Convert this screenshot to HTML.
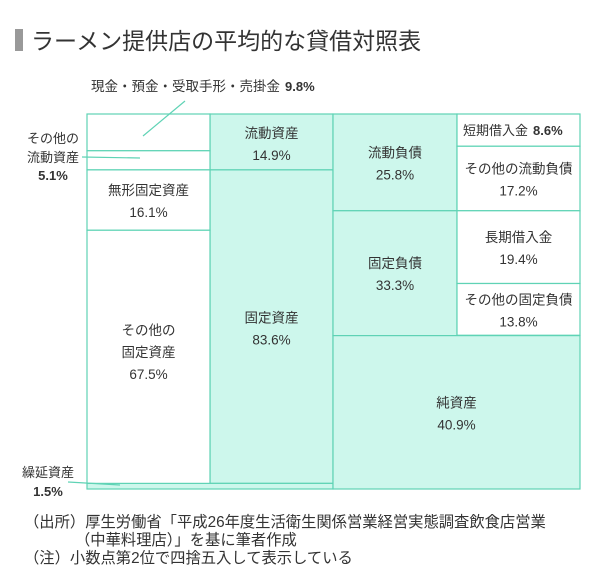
<!DOCTYPE html>
<html><head><meta charset="utf-8">
<style>
body{margin:0;background:#fff;width:600px;height:574px;overflow:hidden;font-family:"Liberation Sans","Noto Sans CJK JP",sans-serif;}
svg text{font-family:"Liberation Sans","Noto Sans CJK JP",sans-serif;fill:#333;}
</style></head><body>
<svg width="600" height="574">
<rect x="15" y="29" width="8" height="22" fill="#999"/>
<text x="31" y="49" font-size="23" fill="#222">ラーメン提供店の平均的な貸借対照表</text>
<g id="marks"></g>
<text x="24" y="527" font-size="15.3">（出所）厚生労働省「平成26年度生活衛生関係営業経営実態調査飲食店営業</text>
<text x="75" y="545" font-size="15.3">（中華料理店）」を基に筆者作成</text>
<text x="24" y="563" font-size="15.3">（注）小数点第2位で四捨五入して表示している</text>
</svg>
<script>
const assetDetailLabels=["現金・預金・受取手形・売掛金","その他の流動資産","無形固定資産","その他の固定資産","繰延資産"];
const assetDetailValues=[9.8,5.1,16.1,67.5,1.5];
const assetGroupLabels=["流動資産","固定資産"];
const assetGroupValues=[14.9,83.6];
const liabGroupLabels=["流動負債","固定負債","純資産"];
const liabGroupValues=[25.8,33.3,40.9];
const liabDetailLabels=["短期借入金","その他の流動負債","長期借入金","その他の固定負債"];
const liabDetailValues=[8.6,17.2,19.4,13.8];

const top0=114,bot0=489,H=bot0-top0;
const y=v=>top0+v/100*H;
const X=[87,210,333,457,580];
const TEAL="#cdf7ec",LINE="#5fd3b5";
const ns="http://www.w3.org/2000/svg";
const g=document.getElementById("marks");
function rect(x,yy,w,h,fill,name){const r=document.createElementNS(ns,"rect");r.setAttribute("x",x);r.setAttribute("y",yy);r.setAttribute("width",w);r.setAttribute("height",h);r.setAttribute("fill",fill);r.setAttribute("stroke",LINE);r.setAttribute("stroke-width","1.2");


g.appendChild(r);return r;}
function text(x,yy,s,size,name,anchor,fill,weight){const t=document.createElementNS(ns,"text");t.setAttribute("x",x);t.setAttribute("y",yy);t.setAttribute("font-size",size||13);t.setAttribute("text-anchor",anchor||"middle");if(fill)t.setAttribute("fill",fill);if(weight)t.setAttribute("font-weight",weight);t.textContent=s;


g.appendChild(t);return t;}
function line(x1,y1,x2,y2,name){const l=document.createElementNS(ns,"line");l.setAttribute("x1",x1);l.setAttribute("y1",y1);l.setAttribute("x2",x2);l.setAttribute("y2",y2);l.setAttribute("stroke",LINE);l.setAttribute("stroke-width","1.2");


g.appendChild(l);}
function pct(v){return v.toFixed(1)+"%";}

let c=0;
assetGroupValues.forEach((v,i)=>{const y0=y(c),y1=y(c+v);rect(X[1],y0,X[2]-X[1],y1-y0,TEAL,"asset-group-"+i);
 const my=(y0+y1)/2;text((X[1]+X[2])/2,my-4,assetGroupLabels[i],13.5,"asset-group-label-"+i);text((X[1]+X[2])/2,my+18,pct(v),13.5,"asset-group-value-"+i);c+=v;});
const dv=assetDetailValues[4];
rect(X[0],y(c),X[2]-X[0],y(c+dv)-y(c),TEAL,"deferred-assets-bar");
c=0;
assetDetailValues.slice(0,4).forEach((v,i)=>{const y0=y(c),y1=y(c+v);rect(X[0],y0,X[1]-X[0],y1-y0,"#fff","asset-detail-"+i);
 if(i>=2){const my=(y0+y1)/2;
  if(i===3){text((X[0]+X[1])/2,my-22,"その他の",13.5,"asset-detail-label-"+i);text((X[0]+X[1])/2,my,"固定資産",13.5,"asset-detail-label2-"+i);text((X[0]+X[1])/2,my+22,pct(v),13.5,"asset-detail-value-"+i);}
  else{text((X[0]+X[1])/2,my-5,assetDetailLabels[i],13.5,"asset-detail-label-"+i);text((X[0]+X[1])/2,my+17,pct(v),13.5,"asset-detail-value-"+i);}
 }
 c+=v;});
text(91,91,assetDetailLabels[0],13.5,"cash-callout-label","start");
text(285,91,pct(assetDetailValues[0]),13,"cash-callout-value","start","#111","bold");
line(143,136,185,101,"cash-callout-line");
text(53,143,"その他の",13,"other-current-callout-1");
text(53,162,"流動資産",13,"other-current-callout-2");
text(53,180,pct(assetDetailValues[1]),13,"other-current-callout-value",null,"#111","bold");
line(82,157,140,158,"other-current-callout-line");
text(48,477,assetDetailLabels[4],13,"deferred-callout-label");
text(48,496,pct(dv),13,"deferred-callout-value",null,"#111","bold");
line(68,482,120,485,"deferred-callout-line");
c=0;
liabGroupValues.forEach((v,i)=>{const y0=y(c),y1=y(c+v);const w=i===2?X[4]-X[2]:X[3]-X[2];rect(X[2],y0,w,y1-y0,TEAL,"liability-group-"+i);
 const mx=X[2]+w/2,my=(y0+y1)/2;text(mx,my-5,liabGroupLabels[i],13.5,"liability-group-label-"+i);text(mx,my+17,pct(v),13.5,"liability-group-value-"+i);c+=v;});
c=0;
liabDetailValues.forEach((v,i)=>{const y0=y(c),y1=y(c+v);rect(X[3],y0,X[4]-X[3],y1-y0,"#fff","liability-detail-"+i);
 const mx=(X[3]+X[4])/2,my=(y0+y1)/2;
 if(i===0){text(X[3]+6,my+5,liabDetailLabels[i],13,"liability-detail-label-"+i,"start");text(X[3]+76,my+5,pct(v),13,"liability-detail-value-"+i,"start","#111","bold");}
 else{text(mx,my-5,liabDetailLabels[i],13.5,"liability-detail-label-"+i);text(mx,my+17,pct(v),13.5,"liability-detail-value-"+i);}
 c+=v;});
</script>
</body></html>
